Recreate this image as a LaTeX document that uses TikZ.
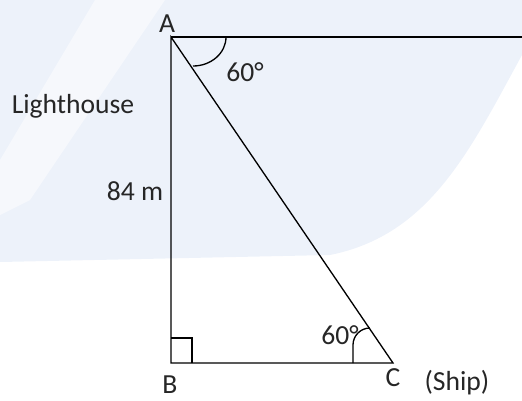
\documentclass[tikz,border=0pt]{standalone}
\usepackage{fontspec}
\setmainfont{Carlito}
\usepackage{xcolor}
\usetikzlibrary{positioning, calc}

\definecolor{bgblue}{HTML}{EDF2FA}

\begin{document}
\begin{tikzpicture}[
        x=0.02cm, y=-0.02cm,
        line/.style={draw, line width=0.75pt},
        label/.style={font=\fontsize{15.7}{18}\selectfont, inner sep=0pt, text=black!85}
    ]
        \useasboundingbox (0,0) rectangle (522,400);

        % Background
        \fill[bgblue] (0,0) -- (522,0) -- (522,55) .. controls (470,150) and (430,235) .. (330,255) -- (0,262) -- cycle;
        \fill[white, opacity=0.5] (95,0) -- (165,0) -- (30,200) -- (0,215) -- (0,160) -- cycle;

        % Points
        \coordinate (A) at (171,37);
        \coordinate (B) at (171,363);
        \coordinate (C) at (393,363);
        \coordinate (E) at (522,37);

        % Triangle
        \draw[line] (A) -- (B) -- (C) -- cycle;
        \draw[line] (A) -- (E);
        \draw[line] ($(B)+(0,-25)$) -| ($(B)+(21,0)$);
        \draw[line] ($(A)+(55,0)$) arc[start angle=0, end angle=90, x radius=33, y radius=29];
        \draw[line] ($(C)+(-40,0)$) -- ++(0,-18) arc[start angle=180, end angle=270, radius=17];

        % Labels
        \node[label] (lblA) at (167,24) {A};
        \node[label] (lblB) at (170,385) {B};
        \node[label] (lblC) at (393,378) {C};
        \node[label] (ship) at (457,383) {(Ship)};
        \node[label] (house) at (73,106) {Lighthouse};
        \node[label] (height) at (135,191) {84 m};
        \node[label] (angA) at (245,72) {60°};
        \node[label] (angC) at (340,335) {60°};
    \end{tikzpicture}
\end{document}
